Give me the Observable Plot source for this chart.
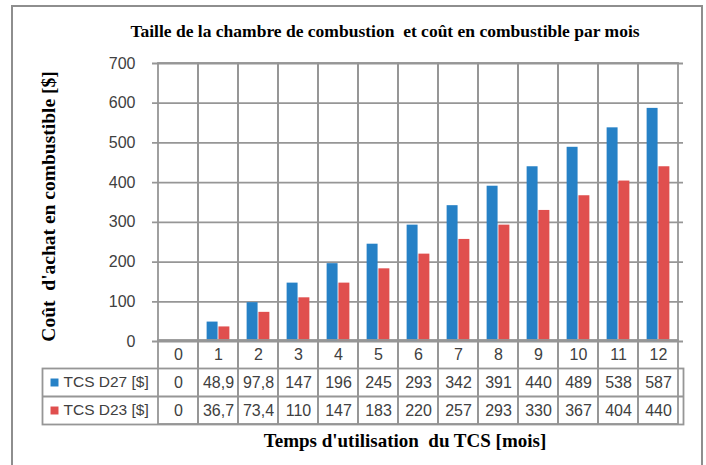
<!DOCTYPE html>
<html>
<head>
<meta charset="utf-8">
<script src="https://cdn.jsdelivr.net/npm/d3@7"></script>
<script src="https://cdn.jsdelivr.net/npm/@observablehq/plot@0.6"></script>
<style>
  html, body { margin: 0; padding: 0; background: #fff; }
  #wrap { position: relative; width: 706px; height: 465px; overflow: hidden; }
  #frame { position: absolute; left: 11px; top: 5px; width: 692px; height: 480px; border: 2px solid #8e8e8e; box-sizing: border-box; }
  #wrap svg { position: absolute; left: 0; overflow: visible; }
  #wrap svg text { white-space: pre; }
  .ttl { position: absolute; left: 0; text-align: center; font-family: "Liberation Serif", serif; font-weight: bold; color: #000; white-space: pre; }
  #title { top: 20px; width: 770px; font-size: 17.5px; line-height: 22px; }
  #xtitle { top: 429px; width: 810px; font-size: 19px; line-height: 24px; }
</style>
</head>
<body>
<div id="wrap"><div id="frame"></div></div>
<script>
const title = "Taille de la chambre de combustion  et coût en combustible par mois";
const yTitle = "Coût  d'achat en combustible [$]";
const xTitle = "Temps d'utilisation  du TCS [mois]";
const months = ["0","1","2","3","4","5","6","7","8","9","10","11","12"];
const series = ["TCS D27 [$]", "TCS D23 [$]"];
const d27 = [0, 48.9, 97.8, 147, 196, 245, 293, 342, 391, 440, 489, 538, 587];
const d23 = [0, 36.7, 73.4, 110, 147, 183, 220, 257, 293, 330, 367, 404, 440];
const yTicks = [0, 100, 200, 300, 400, 500, 600, 700];

const colors = ["#2681C6", "#E04F4E"];
const grid = "#969696";
const gw = 1.8;
const W = 706, ML = 152, MR = 23;
const bw = (W - ML - MR) / months.length;
const barW = 11.8;
const fmt = v => String(v).replace(".", ",");
const rows = months.map((m, i) => ({month: m, d27: d27[i], d23: d23[i]}));

const chart = Plot.plot({
  width: W, height: 343,
  marginLeft: ML, marginRight: MR, marginTop: 63, marginBottom: 2,
  style: {fontFamily: "Liberation Sans", fontSize: "16px", color: "#404040", background: "transparent"},
  x: {type: "band", domain: months, padding: 0, axis: null},
  y: {domain: [0, 700], ticks: yTicks.length - 1, tickSize: 0, tickPadding: 17, label: null},
  marks: [
    Plot.ruleY(yTicks, {stroke: grid, strokeWidth: gw}),
    Plot.barY(months, {x: d => d, y1: 0, y2: 700, fill: "none", stroke: grid, strokeWidth: gw}),
    Plot.barY(rows, {x: "month", y: "d27", fill: colors[0], insetLeft: bw / 2 - barW, insetRight: bw / 2}),
    Plot.barY(rows, {x: "month", y: "d23", fill: colors[1], insetLeft: bw / 2, insetRight: bw / 2 - barW}),
    Plot.text([yTitle], {frameAnchor: "left", textAnchor: "middle", dx: -104, dy: 4, rotate: -90, fontFamily: "Liberation Serif", fontWeight: "bold", fontSize: 19.5, fill: "#000"})
  ]
});
chart.style.top = "0px";

const table = Plot.plot({
  width: W, height: 124,
  marginLeft: 42, marginRight: MR, marginTop: 27, marginBottom: 41,
  style: {fontFamily: "Liberation Sans", fontSize: "16px", color: "#404040", background: "transparent"},
  x: {type: "band", domain: months, range: [ML, W - MR], padding: 0, axis: null},
  y: {domain: [1, 3], reverse: true, axis: null},
  marks: [
    Plot.frame({stroke: grid, strokeWidth: gw}),
    Plot.ruleY([2], {stroke: grid, strokeWidth: gw}),
    Plot.barY(months, {x: d => d, y1: 0, y2: 3, fill: "none", stroke: grid, strokeWidth: gw}),
    Plot.text(months, {x: d => d, y: 0.5, text: d => d}),
    Plot.text(rows, {x: "month", y: 1.5, text: d => fmt(d.d27)}),
    Plot.text(rows, {x: "month", y: 2.5, text: d => fmt(d.d23)}),
    Plot.dot([series[0]], {y: 1.5, frameAnchor: "left", dx: 12, symbol: "square", r: 4.5, fill: colors[0], stroke: "none"}),
    Plot.dot([series[1]], {y: 2.5, frameAnchor: "left", dx: 12, symbol: "square", r: 4.5, fill: colors[1], stroke: "none"}),
    Plot.text(series, {y: (d, i) => 1.5 + i, text: d => d, frameAnchor: "left", dx: 21, textAnchor: "start", fontSize: 15.5})
  ]
});
table.style.top = "341px";

const wrap = document.getElementById("wrap");
wrap.appendChild(chart);
wrap.appendChild(table);
const t = document.createElement("div"); t.id = "title"; t.className = "ttl"; t.textContent = title; wrap.appendChild(t);
const xt = document.createElement("div"); xt.id = "xtitle"; xt.className = "ttl"; xt.textContent = xTitle; wrap.appendChild(xt);
</script>
</body>
</html>
